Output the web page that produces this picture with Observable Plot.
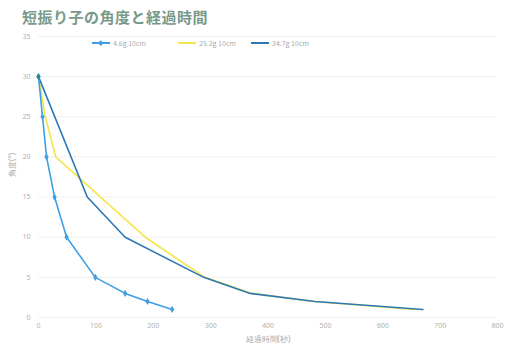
<!DOCTYPE html>
<html><head><meta charset="utf-8">
<script src="https://cdn.jsdelivr.net/npm/d3@7"></script>
<script src="https://cdn.jsdelivr.net/npm/@observablehq/plot@0.6"></script>
<style>
body{margin:0;background:#fff;font-family:"Noto Sans CJK JP","Noto Sans",sans-serif;}
#wrap{position:relative;width:505px;height:351px;}
#title{position:absolute;left:22px;top:6px;font-size:15px;font-weight:bold;color:#79998b;letter-spacing:0.5px;}
#legend{position:absolute;left:0;top:38px;font-size:7px;color:#aaa;}
.li{position:absolute;white-space:nowrap;display:flex;align-items:center;}
.sw{display:inline-block;width:18px;height:2px;margin-right:3px;position:relative;}
</style></head>
<body><div id="wrap"><div id="title">短振り子の角度と経過時間</div><div id="legend"></div></div>
<script>
const seriesNames = ["4.6g 10cm", "25.2g 10cm", "34.7g 10cm"];
const seriesColors = ["#3d9fe6", "#f4e64c", "#2b78b6"];
const s1Time = [0, 7, 14, 28, 49, 99, 151, 190, 233];
const s1Angle = [30, 25, 20, 15, 10, 5, 3, 2, 1];
const s2Time = [0, 12, 30, 186, 290, 372, 480, 655];
const s2Angle = [30, 25, 20, 10, 5, 3, 2, 1];
const s3Time = [0, 85, 151, 288, 369, 482, 670];
const s3Angle = [30, 15, 10, 5, 3, 2, 1];
const xTicks = [0, 100, 200, 300, 400, 500, 600, 700, 800];
const yTicks = [0, 5, 10, 15, 20, 25, 30, 35];
const xLabel = "経過時間(秒)";
const yLabel = "角度(°)";

const mk = (t, a, i) => t.map((x, j) => ({time: x, angle: a[j], s: seriesNames[i]}));
const d1 = mk(s1Time, s1Angle, 0), d2 = mk(s2Time, s2Angle, 1), d3 = mk(s3Time, s3Angle, 2);

const chart = Plot.plot({
  width: 505, height: 351,
  marginLeft: 38, marginRight: 8, marginTop: 36, marginBottom: 34,
  style: {fontSize: "7px", color: "#aaa", background: "transparent", fontFamily: "Noto Sans, sans-serif"},
  x: {domain: [0, 800], ticks: xTicks, label: null},
  y: {domain: [0, 35], ticks: yTicks, label: null},
  marks: [
    Plot.gridY(yTicks, {stroke: "#f0f0f0", strokeOpacity: 1}),
    Plot.axisX({ticks: xTicks, tickSize: 0, tickPadding: 6, fill: "#b0b0b0"}),
    Plot.axisY({ticks: yTicks, tickSize: 0, tickPadding: 8, fill: "#b0b0b0"}),
    Plot.text([xLabel], {frameAnchor: "bottom", dy: 24, fill: "#aaa", fontSize: 8}),
    Plot.text([yLabel], {frameAnchor: "left", dx: -26, rotate: -90, fill: "#aaa", fontSize: 8}),
    Plot.line(d2, {x: "time", y: "angle", stroke: seriesColors[1], strokeWidth: 1.6}),
    Plot.line(d3, {x: "time", y: "angle", stroke: seriesColors[2], strokeWidth: 1.6}),
    Plot.line(d1, {x: "time", y: "angle", stroke: seriesColors[0], strokeWidth: 1.6}),
    Plot.dot(d1, {x: "time", y: "angle", fill: seriesColors[0], symbol: "diamond", r: 2.2}),
    Plot.dot([d3[0]], {x: "time", y: "angle", fill: "#2a8a8a", symbol: "diamond", r: 2.2})
  ]
});
document.getElementById("wrap").appendChild(chart);

const leg = document.getElementById("legend");
const lx = [92, 178, 251];
seriesNames.forEach((n, i) => {
  const d = document.createElement("div");
  d.className = "li"; d.style.left = lx[i] + "px"; d.style.top = "0px";
  const sw = document.createElement("span"); sw.className = "sw"; sw.style.background = seriesColors[i];
  if (i === 0) {
    const m = document.createElement("span");
    m.style.cssText = "position:absolute;left:7px;top:-1.5px;width:3.5px;height:3.5px;background:" + seriesColors[0] + ";transform:rotate(45deg)";
    sw.appendChild(m);
  }
  d.appendChild(sw);
  const t = document.createElement("span"); t.textContent = n; d.appendChild(t);
  leg.appendChild(d);
});
</script></body></html>
